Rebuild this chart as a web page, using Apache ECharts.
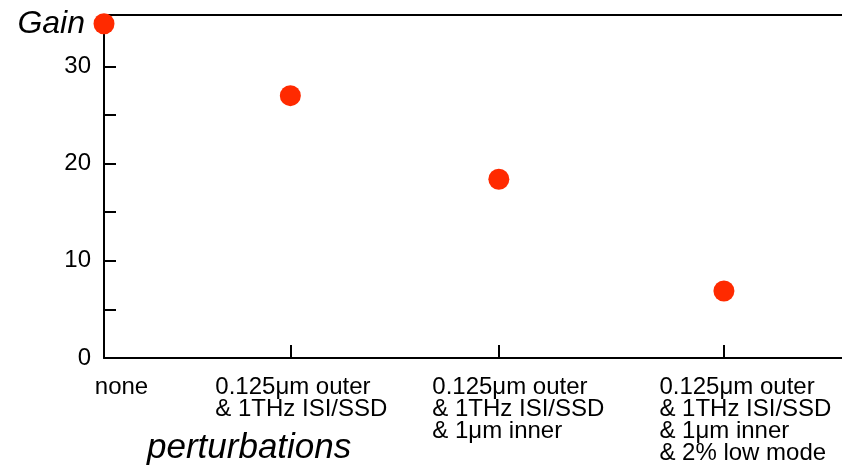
<!DOCTYPE html>
<html>
<head>
<meta charset="utf-8">
<script src="https://cdn.jsdelivr.net/npm/echarts@6/dist/echarts.min.js"></script>
<style>
  html, body { margin: 0; padding: 0; background: #fff; }
  #chart { width: 842px; height: 474px; }
</style>
</head>
<body>
<div id="chart"></div>
<script>
// data
const categories = [
  'none',
  '0.125μm outer\n& 1THz ISI/SSD',
  '0.125μm outer\n& 1THz ISI/SSD\n& 1μm inner',
  '0.125μm outer\n& 1THz ISI/SSD\n& 1μm inner\n& 2% low mode'
];
const xPositions = [0, 1.01, 2.14, 3.36];
const gainValues = [34.4, 27.0, 18.4, 6.9];
const yTickValues = [0, 5, 10, 15, 20, 25, 30];
const yLabelValues = [0, 10, 20, 30];

const font = 'Liberation Sans, Arial, Helvetica, sans-serif';
const chart = echarts.init(document.getElementById('chart'));

// per-label left padding pushes each block a little right of its tick
const padLeft = [35, 22, 39, 43];
const rich = {};
padLeft.forEach((p, i) => {
  rich['l' + i] = {
    align: 'left',
    fontSize: 24,
    lineHeight: 22,
    fontFamily: font,
    color: '#000',
    padding: [0, 0, 0, p]
  };
});

const axisLine = { show: true, lineStyle: { color: '#000', width: 2 } };

const option = {
  animation: false,
  title: {
    text: 'perturbations',
    left: 147,
    top: 431,
    padding: 0,
    textStyle: {
      fontFamily: font,
      fontStyle: 'italic',
      fontWeight: 'normal',
      fontSize: 35,
      color: '#000'
    }
  },
  grid: { left: 104, right: 0, top: 15, bottom: 116, outerBoundsMode: 'none', containLabel: false },
  xAxis: [
    {
      type: 'value',
      min: 0,
      max: 4,
      position: 'bottom',
      axisLine: axisLine,
      splitLine: { show: false },
      axisTick: {
        show: true,
        inside: true,
        length: 13,
        lineStyle: { color: '#000', width: 2 },
        customValues: xPositions
      },
      axisLabel: {
        customValues: xPositions,
        margin: 18,
        align: 'center',
        verticalAlign: 'top',
        hideOverlap: false,
        formatter: (val) => {
          let idx = 0;
          xPositions.forEach((x, i) => {
            if (Math.abs(x - val) < Math.abs(xPositions[idx] - val)) idx = i;
          });
          return categories[idx].split('\n').map(s => '{l' + idx + '|' + s + '}').join('\n');
        },
        rich: rich
      }
    },
    {
      type: 'value',
      min: 0,
      max: 4,
      position: 'top',
      axisLine: axisLine,
      axisTick: { show: false },
      axisLabel: { show: false },
      splitLine: { show: false }
    }
  ],
  yAxis: {
    type: 'value',
    min: 0,
    max: 35.3,
    axisLine: axisLine,
    splitLine: { show: false },
    axisTick: {
      show: true,
      inside: true,
      length: 12,
      lineStyle: { color: '#000', width: 2 },
      customValues: yTickValues
    },
    axisLabel: {
      customValues: yLabelValues,
      fontFamily: font,
      fontSize: 24,
      color: '#000',
      margin: 13
    },
    name: 'Gain',
    nameLocation: 'end',
    nameGap: -9,
    nameTextStyle: {
      fontFamily: font,
      fontStyle: 'italic',
      fontSize: 32,
      color: '#000',
      align: 'right',
      verticalAlign: 'middle',
      padding: [0, 19, 0, 0]
    }
  },
  series: [
    {
      type: 'scatter',
      clip: false,
      symbol: 'circle',
      symbolSize: 21,
      itemStyle: { color: '#ff2a00', opacity: 1 },
      data: xPositions.map((x, i) => [x, gainValues[i]])
    }
  ]
};

chart.setOption(option);
</script>
</body>
</html>
